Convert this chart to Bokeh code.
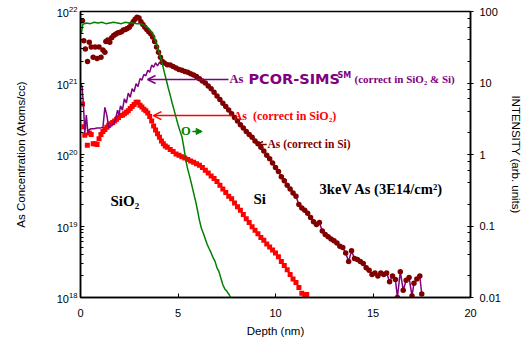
from bokeh.plotting import figure
from bokeh.models import (Arrow, OpenHead, NormalHead, Label, LogAxis, Range1d,
                          LogScale, CustomJSTickFormatter, LogTicker)
from bokeh.embed import file_html
from bokeh.resources import INLINE

# ---------------- data ----------------
# As (correct in Si) - dark red dots
si_depth = [0.10, 0.17, 0.25, 0.36, 0.45, 0.55, 0.65, 0.75, 0.85, 0.95,
            1.05, 1.15, 1.25, 1.30, 1.40, 1.50, 1.60, 1.70, 1.80, 1.90,
            2.00, 2.10, 2.20, 2.30, 2.40, 2.50, 2.60, 2.70, 2.80, 2.90,
            3.00, 3.10, 3.20, 3.30, 3.40, 3.50, 3.60, 3.70, 3.80, 3.90,
            4.00, 4.10, 4.20, 4.30, 4.45,
            4.60, 4.75, 4.90, 5.05, 5.20,
            5.35, 5.50, 5.65, 5.80, 5.95, 6.10, 6.25, 6.40, 6.55, 6.70,
            6.85, 7.00, 7.15, 7.30, 7.45, 7.60, 7.75, 7.90, 8.05, 8.20,
            8.35, 8.50, 8.65, 8.80, 8.95, 9.10, 9.25, 9.40, 9.55, 9.70,
            9.85, 10.00, 10.15, 10.30, 10.45, 10.60, 10.75, 10.90, 11.05, 11.20,
            11.35, 11.50, 11.65, 11.80, 11.95, 12.10, 12.25, 12.40, 12.55, 12.70,
            12.85, 13.00, 13.15, 13.30, 13.45, 13.60, 13.75, 13.90, 14.05, 14.20,
            14.35, 14.50, 14.65, 14.80, 14.95, 15.10, 15.25, 15.40, 15.55, 15.70,
            15.85, 16.00, 16.15, 16.25, 16.40, 16.55, 16.70, 16.85, 17.00, 17.10,
            17.25, 17.40, 17.50]
si_conc = [7.4e21, 3.9e21, 3.0e21, 2.0e21, 3.7e21, 3.2e21, 2.3e21, 3.2e21, 2.2e21, 3.2e21,
           2.3e21, 2.9e21, 2.7e21, 3.8e21, 4.0e21, 3.7e21, 4.3e21, 4.6e21, 4.8e21, 5.0e21,
           5.1e21, 5.2e21, 5.5e21, 5.6e21, 5.8e21, 6.0e21, 6.6e21, 7.2e21, 7.8e21, 8.3e21,
           8.1e21, 7.2e21, 6.6e21, 6.0e21, 5.6e21, 5.2e21, 4.9e21, 4.4e21, 3.8e21, 3.2e21,
           2.7e21, 2.3e21, 2.0e21, 1.9e21, 1.8e21,
           1.78e21, 1.7e21, 1.62e21, 1.55e21, 1.51e21,
           1.45e21, 1.41e21, 1.35e21, 1.29e21, 1.23e21, 1.15e21, 1.07e21, 1.0e21, 9.1e20, 8.3e20,
           7.4e20, 6.6e20, 5.9e20, 5.2e20, 4.7e20, 4.2e20, 3.7e20, 3.3e20, 2.95e20, 2.6e20,
           2.35e20, 2.1e20, 1.9e20, 1.74e20, 1.55e20, 1.41e20, 1.26e20, 1.12e20, 9.8e19, 8.7e19,
           7.6e19, 6.6e19, 5.8e19, 4.9e19, 4.3e19, 3.7e19, 3.3e19, 2.9e19, 2.6e19, 2.0e19,
           1.78e19, 1.66e19, 1.51e19, 1.32e19, 1.15e19, 1.05e19, 1.12e19, 8.5e18, 7.6e18, 7.1e18,
           6.6e18, 6.2e18, 5.8e18, 5.2e18, 5.0e18, 4.2e18, 3.2e18, 4.5e18, 3.5e18, 3.4e18,
           3.2e18, 3.0e18, 2.6e18, 2.4e18, 2.1e18, 2.2e18, 2.0e18, 2.2e18, 2.1e18, 2.2e18,
           1.66e18, 2.0e18, 1.78e18, 1.0e18, 2.3e18, 1.26e18, 1.74e18, 1.9e18, 1.05e18, 1.58e18,
           1.82e18, 2.0e18, 1.12e18]

# As (correct in SiO2) - red squares
ox_depth = [0.10, 0.17, 0.22, 0.35, 0.45, 0.55, 0.65, 0.75, 0.85, 0.95,
            1.05, 1.15, 1.25, 1.35, 1.45, 1.55, 1.65, 1.75, 1.85, 1.95,
            2.05, 2.15, 2.25, 2.35, 2.45, 2.55, 2.65, 2.75, 2.85, 2.95,
            3.05, 3.15, 3.25, 3.35, 3.45, 3.55, 3.65, 3.75, 3.85, 3.95,
            4.05, 4.15, 4.25, 4.35, 4.45, 4.60, 4.75, 4.90, 5.05, 5.20,
            5.35, 5.50, 5.65, 5.80, 5.95, 6.10, 6.25, 6.40, 6.55, 6.70,
            6.85, 7.00, 7.15, 7.30, 7.45, 7.60, 7.75, 7.90, 8.05, 8.20,
            8.35, 8.50, 8.65, 8.80, 8.95, 9.10, 9.25, 9.40, 9.55, 9.70,
            9.85, 10.00, 10.15, 10.30, 10.45, 10.60, 10.75, 10.90, 11.05, 11.20,
            11.35, 11.50, 11.60]
ox_conc = [5.1e20, 2.45e20, 1.86e20, 1.35e20, 2.0e20, 1.9e20, 1.41e20, 1.41e20, 1.38e20, 1.66e20,
           1.9e20, 2.1e20, 2.24e20, 2.4e20, 2.57e20, 2.7e20, 2.8e20, 2.95e20, 3.1e20, 3.3e20,
           3.5e20, 3.55e20, 3.7e20, 3.9e20, 4.1e20, 4.4e20, 4.7e20, 5.0e20, 5.4e20, 5.4e20,
           4.9e20, 4.6e20, 4.3e20, 4.1e20, 3.8e20, 3.4e20, 2.95e20, 2.5e20, 2.2e20, 1.95e20,
           1.74e20, 1.55e20, 1.41e20, 1.32e20, 1.26e20, 1.17e20, 1.10e20, 1.02e20, 9.8e19, 9.3e19,
           8.9e19, 8.5e19, 8.1e19, 7.8e19, 7.4e19, 7.1e19, 6.6e19, 6.0e19, 5.5e19, 5.0e19,
           4.6e19, 4.2e19, 3.7e19, 3.3e19, 2.95e19, 2.6e19, 2.4e19, 2.1e19, 1.86e19, 1.66e19,
           1.45e19, 1.26e19, 1.12e19, 9.8e18, 8.7e18, 7.8e18, 6.9e18, 6.3e18, 5.6e18, 5.1e18,
           4.6e18, 4.2e18, 3.7e18, 3.2e18, 2.8e18, 2.45e18, 2.1e18, 1.82e18, 1.62e18, 1.38e18,
           1.15e18, 1.07e18, 1.1e18]

# As PCOR-SIMS (oxide part; in Si it follows the Si-corrected profile)
pcor_depth = [0.00, 0.08, 0.15, 0.22, 0.30, 0.38, 0.45, 0.55, 0.70, 0.85,
              1.00, 1.15, 1.25, 1.35, 1.45, 1.55, 1.70, 1.80, 1.90, 1.97,
              2.05, 2.15, 2.25, 2.35, 2.45, 2.55, 2.65, 2.75, 2.85, 2.95,
              3.05, 3.15, 3.25, 3.35, 3.45, 3.55, 3.65, 3.75, 3.85, 3.95,
              4.05, 4.15, 4.25, 4.35, 4.45]
pcor_conc = [1.0e21, 8.9e20, 5.0e20, 2.0e20, 3.55e20, 2.0e20, 2.24e20, 2.29e20, 2.29e20, 2.34e20,
             2.34e20, 2.4e20, 4.57e20, 3.55e20, 2.34e20, 2.51e20, 2.69e20, 3.16e20, 4.17e20, 3.55e20,
             4.79e20, 4.17e20, 6.03e20, 5.25e20, 7.24e20, 6.31e20, 8.32e20, 7.59e20, 9.77e20, 8.91e20,
             1.15e21, 1.10e21, 1.32e21, 1.26e21, 1.51e21, 1.41e21, 1.78e21, 1.66e21, 1.91e21, 1.74e21,
             1.95e21, 1.82e21, 1.91e21, 1.82e21, 1.86e21]

# O intensity (right axis)
o_depth = [0.05, 0.12, 0.3, 0.5, 0.7, 0.9, 1.1, 1.3, 1.5, 1.7,
           1.9, 2.1, 2.3, 2.5, 2.7, 2.9, 3.1, 3.3, 3.5, 3.7,
           3.9, 4.0, 4.1, 4.2, 4.3, 4.4, 4.5, 4.6, 4.7, 4.8,
           4.9, 5.0, 5.1, 5.2, 5.3, 5.4, 5.5, 5.6, 5.7, 5.8,
           5.9, 6.0, 6.1, 6.2, 6.3, 6.4, 6.5, 6.6, 6.7, 6.8,
           6.9, 7.0, 7.1, 7.2, 7.3, 7.4, 7.5, 7.6, 7.7]
o_int = [50.1, 66.1, 69.2, 67.6, 70.8, 69.2, 70.8, 67.6, 69.2, 70.8,
         69.2, 67.6, 70.8, 69.2, 69.2, 67.6, 67.6, 63.1, 57.5, 49.0,
         36.3, 28.8, 22.9, 18.2, 14.1, 11.0, 8.51, 6.76, 5.25, 4.17,
         3.31, 2.63, 2.14, 1.78, 1.26, 0.83, 0.62, 0.49, 0.38, 0.29,
         0.224, 0.166, 0.12, 0.093, 0.079, 0.066, 0.055, 0.048, 0.042, 0.036,
         0.032, 0.026, 0.023, 0.0186, 0.0151, 0.0132, 0.0123, 0.0112, 0.010]

x_ticks = [0, 5, 10, 15, 20]

assert len(si_depth) == len(si_conc)
assert len(ox_depth) == len(ox_conc)
assert len(pcor_depth) == len(pcor_conc)
assert len(o_depth) == len(o_int)

MAROON = "#800000"
RED = "#ff0000"
PURPLE = "#800080"
GREEN = "#008000"
SERIF = "Liberation Serif"
SANS = "Liberation Sans"

p = figure(width=531, height=341, x_range=(0, 20), y_range=(1e18, 1e22),
           y_axis_type="log", output_backend="svg", toolbar_location=None,
           min_border_left=80, min_border_right=61, min_border_top=11,
           min_border_bottom=44)
p.background_fill_color = "white"
p.border_fill_color = "white"
p.outline_line_color = "black"
p.outline_line_width = 1.5
p.grid.visible = False

p.extra_y_ranges = {"int": Range1d(0.01, 100)}
p.extra_y_scales = {"int": LogScale()}
raxis = LogAxis(y_range_name="int", ticker=LogTicker(),
                formatter=CustomJSTickFormatter(code="return Number(tick.toPrecision(2)).toString();"))
p.add_layout(raxis, "right")

# axes styling
xa = p.xaxis[0]
xa.ticker = x_ticks
xa.axis_label = "Depth (nm)"
xa.major_tick_in = 4
xa.major_tick_out = 0
xa.major_label_standoff = 11
xa.axis_label_standoff = 5

ya = p.yaxis[0]
ya.axis_label = "As Concentration (Atoms/cc)"
ya.major_tick_in = 4
ya.major_tick_out = 0
ya.minor_tick_in = 3
ya.minor_tick_out = 0
ya.major_label_standoff = 3
ya.axis_label_standoff = 27

raxis.axis_label = "INTENSITY (arb. units)"
raxis.major_tick_in = 3
raxis.major_tick_out = 3
raxis.minor_tick_in = 3
raxis.minor_tick_out = 0
raxis.major_label_standoff = 6
raxis.axis_label_standoff = 6

for ax in (xa, ya, raxis):
    ax.axis_line_color = "black"
    ax.axis_line_width = 1.5
    ax.major_tick_line_color = "black"
    ax.minor_tick_line_color = "black" if ax is not xa else None
    ax.major_label_text_font = SANS
    ax.major_label_text_font_size = "11px"
    ax.major_label_text_color = "black"
    ax.axis_label_text_font = SANS
    ax.axis_label_text_font_size = "11.5px"
    ax.axis_label_text_font_style = "normal"
    ax.axis_label_text_color = "black"

# ---------------- data marks ----------------
p.scatter(ox_depth, ox_conc, marker="square", size=5, fill_color=RED, line_color=None)
pcor_x = pcor_depth + [d for d in si_depth if d > pcor_depth[-1]]
pcor_y = pcor_conc + [c for d, c in zip(si_depth, si_conc) if d > pcor_depth[-1]]
p.line(pcor_x, pcor_y, line_color=PURPLE, line_width=1.5)
p.scatter(si_depth, si_conc, marker="circle", size=5.5, fill_color=MAROON, line_color=None)
p.line(o_depth, o_int, y_range_name="int", line_color=GREEN, line_width=1.5)


def lab(x, y, text, color, size="11px", font=SERIF, style="bold", xo=0, yo=0):
    p.add_layout(Label(x=x, y=y, text=text, text_color=color, text_font=font,
                       text_font_style=style, text_font_size=size,
                       text_baseline="middle", text_align="left",
                       x_offset=xo, y_offset=yo))


# PCOR-SIMS annotation
p.add_layout(Arrow(end=OpenHead(size=8, line_color=PURPLE, line_width=1.5),
                   x_start=7.59, y_start=1.12e21, x_end=3.44, y_end=1.12e21,
                   line_color=PURPLE, line_width=1.5))
lab(7.64, 1.12e21, "As", PURPLE, size="12.5px")
lab(7.64, 1.12e21, "PCOR-SIMS", PURPLE, size="14.5px", font="DejaVu Sans", xo=19)
lab(7.64, 1.12e21, "SM", PURPLE, size="8px", font="DejaVu Sans", xo=108, yo=4)
lab(7.64, 1.12e21, "(correct in SiO\u2082 & Si)", PURPLE, size="11px", xo=125)

# As (correct in SiO2)
p.add_layout(Arrow(end=OpenHead(size=8, line_color=RED, line_width=1.5),
                   x_start=7.79, y_start=3.5e20, x_end=3.74, y_end=3.5e20,
                   line_color=RED, line_width=1.5))
lab(7.85, 3.5e20, "As\u00a0\u00a0(correct in SiO\u2082)", RED, size="12px")

# O ->
lab(5.15, 2.1e20, "O", GREEN, size="12.5px")
p.add_layout(Arrow(end=NormalHead(size=6, fill_color=GREEN, line_color=GREEN),
                   x_start=5.74, y_start=2.1e20, x_end=6.24, y_end=2.1e20,
                   line_color=GREEN, line_width=1.5))

# As (correct in Si)
p.add_layout(Arrow(end=OpenHead(size=6, line_color=MAROON, line_width=1.5),
                   x_start=9.55, y_start=1.38e20, x_end=9.05, y_end=1.38e20,
                   line_color=MAROON, line_width=1.5))
lab(9.59, 1.38e20, "As (correct in Si)", MAROON, size="11.5px")

# region labels
lab(1.54, 2.25e19, "SiO\u2082", "black", size="15px")
lab(8.87, 2.4e19, "Si", "black", size="15px")
lab(12.26, 3.3e19, "3keV As (3E14/cm\u00b2)", "black", size="14.5px")

open("out.html", "w").write(file_html(p, INLINE))
